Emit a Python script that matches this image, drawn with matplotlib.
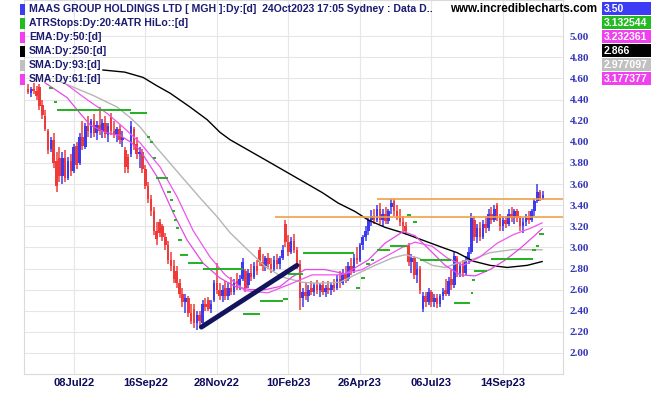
import matplotlib
matplotlib.use("Agg")
import matplotlib.pyplot as plt
from matplotlib.patches import Rectangle
import numpy as np

plt.rcParams['font.family'] = ['Liberation Sans', 'DejaVu Sans']

# one bar = two trading sessions, bar 0 ~ late May 2022, bar 180 = 24Oct2023
opens = [4.50, 4.46, 4.50, 4.48, 4.52, 4.35, 4.24, 4.10, 3.93, 4.02,
         3.82, 3.85, 3.68, 3.85, 3.66, 3.82, 3.72, 3.96, 3.80, 4.05,
         3.95, 4.15, 4.08, 4.20, 4.08, 4.16, 4.10, 4.18, 4.06, 4.24,
         4.10, 4.06, 4.12, 4.02, 3.92, 3.86, 3.88, 4.12, 3.98, 3.88,
         3.90, 3.74, 3.58, 3.46, 3.34, 3.16, 3.24, 3.20, 3.10, 3.02,
         2.88, 2.82, 2.78, 2.66, 2.56, 2.48, 2.52, 2.38, 2.42, 2.28,
         2.36, 2.28, 2.46, 2.50, 2.42, 2.50, 2.66, 2.60, 2.54, 2.62,
         2.54, 2.62, 2.58, 2.68, 2.64, 2.70, 2.78, 2.64, 2.76, 2.72,
         2.82, 2.98, 2.86, 2.82, 2.90, 2.84, 2.80, 2.88, 2.84, 2.90,
         3.22, 3.05, 2.96, 3.06, 2.98, 2.84, 2.52, 2.58, 2.54, 2.62,
         2.58, 2.64, 2.60, 2.64, 2.58, 2.62, 2.60, 2.64, 2.62, 2.70,
         2.66, 2.76, 2.70, 2.82, 2.78, 2.90, 2.88, 3.02, 3.10, 3.16,
         3.26, 3.30, 3.26, 3.36, 3.26, 3.32, 3.25, 3.38, 3.44, 3.34,
         3.30, 3.24, 3.20, 3.02, 2.86, 2.90, 2.74, 2.80, 2.42, 2.54,
         2.48, 2.58, 2.48, 2.52, 2.46, 2.54, 2.60, 2.56, 2.70, 2.64,
         2.90, 2.76, 2.84, 2.76, 2.88, 2.96, 3.26, 3.10, 3.18, 3.10,
         3.22, 3.18, 3.32, 3.26, 3.40, 3.28, 3.20, 3.26, 3.22, 3.32,
         3.28, 3.34, 3.28, 3.20, 3.24, 3.28, 3.26, 3.34, 3.44, 3.52,
         3.46]
highs = [4.55, 4.52, 4.56, 4.53, 4.55, 4.40, 4.30, 4.12, 4.05, 4.08,
         3.90, 3.95, 3.90, 3.92, 3.86, 3.88, 3.98, 4.00, 4.08, 4.20,
         4.18, 4.24, 4.22, 4.26, 4.20, 4.33, 4.22, 4.24, 4.18, 4.27,
         4.20, 4.14, 4.16, 4.10, 3.95, 3.88, 4.20, 4.14, 4.05, 3.95,
         3.93, 3.78, 3.62, 3.50, 3.38, 3.24, 3.27, 3.22, 3.14, 3.06,
         2.96, 2.88, 2.82, 2.70, 2.62, 2.56, 2.54, 2.46, 2.46, 2.40,
         2.40, 2.50, 2.52, 2.53, 2.50, 2.69, 2.85, 2.66, 2.64, 2.68,
         2.66, 2.72, 2.70, 2.76, 2.74, 2.90, 2.80, 2.80, 2.84, 2.86,
         2.88, 3.00, 2.94, 2.92, 2.95, 2.90, 2.92, 2.94, 2.92, 3.02,
         3.26, 3.12, 3.10, 3.13, 3.00, 2.88, 2.62, 2.66, 2.64, 2.68,
         2.66, 2.69, 2.66, 2.68, 2.64, 2.68, 2.66, 2.70, 2.74, 2.78,
         2.80, 2.82, 2.86, 2.90, 2.94, 3.00, 3.04, 3.12, 3.20, 3.28,
         3.35, 3.36, 3.40, 3.42, 3.36, 3.38, 3.36, 3.46, 3.46, 3.40,
         3.36, 3.30, 3.24, 3.04, 2.94, 2.92, 2.86, 2.82, 2.58, 2.58,
         2.62, 2.60, 2.56, 2.56, 2.56, 2.62, 2.70, 2.72, 2.79, 2.96,
         2.92, 2.86, 2.88, 2.92, 3.00, 3.33, 3.30, 3.22, 3.24, 3.26,
         3.30, 3.36, 3.38, 3.40, 3.42, 3.32, 3.30, 3.30, 3.36, 3.38,
         3.36, 3.36, 3.30, 3.28, 3.32, 3.34, 3.36, 3.46, 3.60, 3.54,
         3.53]
lows = [4.45, 4.42, 4.45, 4.40, 4.30, 4.22, 4.10, 3.88, 3.90, 3.75,
        3.52, 3.62, 3.60, 3.62, 3.64, 3.68, 3.70, 3.74, 3.78, 3.92,
        3.93, 4.05, 4.04, 4.05, 4.02, 4.06, 4.04, 4.04, 4.00, 4.06,
        4.04, 4.00, 3.98, 3.95, 3.70, 3.70, 3.86, 3.92, 3.84, 3.75,
        3.70, 3.55, 3.42, 3.30, 3.12, 3.02, 3.10, 3.06, 2.98, 2.84,
        2.78, 2.66, 2.62, 2.52, 2.44, 2.38, 2.34, 2.27, 2.24, 2.22,
        2.26, 2.26, 2.40, 2.40, 2.38, 2.48, 2.56, 2.50, 2.48, 2.50,
        2.50, 2.55, 2.55, 2.60, 2.60, 2.68, 2.58, 2.62, 2.68, 2.70,
        2.74, 2.82, 2.78, 2.78, 2.80, 2.76, 2.78, 2.80, 2.80, 2.88,
        3.00, 2.92, 2.94, 2.95, 2.80, 2.41, 2.44, 2.50, 2.48, 2.55,
        2.54, 2.56, 2.53, 2.55, 2.53, 2.56, 2.55, 2.58, 2.60, 2.62,
        2.64, 2.66, 2.68, 2.74, 2.76, 2.84, 2.86, 2.98, 3.06, 3.12,
        3.20, 3.22, 3.24, 3.22, 3.20, 3.22, 3.22, 3.32, 3.30, 3.26,
        3.20, 3.16, 3.12, 2.82, 2.76, 2.70, 2.66, 2.56, 2.39, 2.44,
        2.45, 2.44, 2.44, 2.43, 2.44, 2.50, 2.54, 2.54, 2.60, 2.62,
        2.72, 2.72, 2.72, 2.74, 2.84, 2.94, 3.06, 3.04, 3.06, 3.08,
        3.14, 3.16, 3.22, 3.24, 3.25, 3.16, 3.16, 3.18, 3.20, 3.24,
        3.22, 3.24, 3.16, 3.14, 3.20, 3.22, 3.24, 3.30, 3.42, 3.44,
        3.45]
closes = [4.47, 4.50, 4.48, 4.43, 4.34, 4.25, 4.12, 3.92, 4.02, 3.80,
          3.58, 3.68, 3.85, 3.66, 3.82, 3.72, 3.95, 3.78, 4.05, 3.96,
          4.15, 4.10, 4.20, 4.08, 4.16, 4.10, 4.18, 4.07, 4.15, 4.10,
          4.06, 4.12, 4.02, 4.05, 3.76, 3.74, 4.15, 3.96, 3.88, 3.90,
          3.74, 3.58, 3.46, 3.34, 3.16, 3.08, 3.14, 3.10, 3.02, 2.88,
          2.82, 2.70, 2.66, 2.56, 2.48, 2.52, 2.38, 2.30, 2.28, 2.36,
          2.30, 2.46, 2.44, 2.42, 2.46, 2.66, 2.60, 2.54, 2.60, 2.54,
          2.62, 2.58, 2.66, 2.64, 2.70, 2.86, 2.62, 2.76, 2.72, 2.82,
          2.78, 2.86, 2.82, 2.90, 2.84, 2.80, 2.88, 2.84, 2.90, 2.98,
          3.05, 2.96, 3.06, 2.98, 2.84, 2.52, 2.58, 2.54, 2.60, 2.58,
          2.64, 2.60, 2.64, 2.58, 2.62, 2.60, 2.64, 2.62, 2.70, 2.66,
          2.76, 2.70, 2.82, 2.78, 2.90, 2.88, 3.02, 3.10, 3.16, 3.26,
          3.30, 3.26, 3.36, 3.26, 3.32, 3.25, 3.34, 3.42, 3.34, 3.30,
          3.24, 3.20, 3.16, 2.86, 2.90, 2.74, 2.80, 2.60, 2.54, 2.48,
          2.58, 2.48, 2.52, 2.46, 2.54, 2.58, 2.56, 2.68, 2.64, 2.92,
          2.76, 2.82, 2.76, 2.88, 2.96, 3.28, 3.10, 3.18, 3.10, 3.22,
          3.18, 3.32, 3.26, 3.36, 3.28, 3.20, 3.26, 3.22, 3.32, 3.28,
          3.34, 3.28, 3.20, 3.24, 3.28, 3.26, 3.34, 3.44, 3.52, 3.47,
          3.50]

# moving averages (bar index, price)
sma250_x = [26.2, 33.8, 40.2, 45.1, 49.7, 56.6, 62.6, 67.1, 70.6, 82.9, 95.1, 102.8,
            108.4, 114.3, 118.9, 124.8, 130.8, 137.8, 145.8, 150.0, 155.6, 161.5,
            167.5, 174.5, 179.7]
sma250_y = [4.68, 4.66, 4.61, 4.53, 4.46, 4.33, 4.21, 4.09, 4.02, 3.83, 3.64, 3.52,
            3.42, 3.34, 3.26, 3.19, 3.14, 3.07, 2.99, 2.95, 2.87, 2.83,
            2.81, 2.83, 2.866]
sma93_x = [11.2, 22.7, 31.1, 35.7, 39.2, 45.1, 52.1, 60.1, 66.1, 70.6, 75.9, 82.9,
           88.8, 95.8, 101.4, 109.1, 114.3, 121.3, 127.3, 131.8, 136.4, 141.3,
           145.8, 151.0, 155.6, 161.5, 169.6, 179.7]
sma93_y = [4.57, 4.44, 4.33, 4.23, 4.14, 3.94, 3.72, 3.47, 3.29, 3.14, 3.00, 2.82,
           2.72, 2.67, 2.66, 2.67, 2.74, 2.83, 2.90, 2.93, 2.90, 2.83,
           2.81, 2.86, 2.89, 2.95, 2.98, 2.977]
sma61_x = [5.9, 13.6, 18.2, 21.7, 26.9, 32.2, 35.7, 39.2, 45.1, 50.7, 55.6, 61.2,
           67.1, 72.4, 77.6, 82.9, 88.1, 92.3, 96.9, 103.8, 110.8, 118.9, 124.8,
           131.1, 135.3, 139.9, 145.8, 151.0, 156.3, 161.5, 166.8, 172.0, 176.6, 179.7]
sma61_y = [4.56, 4.42, 4.27, 4.16, 4.09, 4.06, 4.00, 3.92, 3.67, 3.33, 3.07, 2.85,
           2.71, 2.63, 2.60, 2.60, 2.63, 2.72, 2.79, 2.79, 2.75, 2.88, 3.04,
           3.15, 3.11, 2.99, 2.83, 2.74, 2.73, 2.79, 2.88, 2.99, 3.10, 3.177]
ema50_x = [13.6, 20.6, 27.6, 33.2, 39.2, 46.2, 52.1, 57.7, 63.6, 68.9, 75.9, 83.9,
           92.3, 99.3, 109.1, 116.8, 124.8, 130.8, 135.3, 141.3, 146.5, 152.1,
           158.0, 164.0, 169.6, 175.5, 179.7]
ema50_y = [4.54, 4.40, 4.27, 4.14, 3.99, 3.76, 3.48, 3.16, 2.91, 2.74, 2.59, 2.57,
           2.66, 2.74, 2.74, 2.79, 2.91, 3.00, 3.05, 3.01, 2.90, 2.83,
           2.91, 3.04, 3.12, 3.18, 3.232]

# ATR stop steps: start bar, end bar, level
atr_start = [7.2, 9.0, 10, 35.5, 41.6, 42.7, 43.7, 44.8, 48.7, 49.6, 50.4, 51.1, 51.8, 52.6,
             53.2, 56, 61, 75, 81, 89, 91, 96, 114.7, 116.5, 118.3, 119.9, 122, 126.5,
             132.5, 134.5, 137, 149, 154.8, 155.3, 156, 162, 176.2, 177.5, 178.5]
atr_end = [8.6, 10.0, 36, 41.5, 42.8, 43.8, 44.8, 49, 49.9, 50.7, 51.5, 52.2, 52.9, 53.7,
           56, 61, 75, 81, 89, 91, 96, 114, 115.9, 117.7, 119.5, 121.1, 126.5, 132.5,
           134, 136, 148, 154.5, 155.7, 156.2, 160.5, 176.5, 177.4, 178.6, 180.5]
atr_val = [4.51, 4.38, 4.30, 4.27, 4.05, 4.00, 3.85, 3.66, 3.52, 3.45, 3.34, 3.26, 3.18, 3.07,
           2.93, 2.85, 2.80, 2.37, 2.49, 2.51, 2.75, 2.95, 2.62, 2.71, 2.84, 2.88, 2.98, 3.01,
           3.31, 3.24, 2.88, 2.47, 2.57, 2.69, 2.78, 2.89, 2.98, 3.01, 3.13]

# horizontal resistance lines and the drawn trend line
res_start = [86.4, 122]
res_val = [3.29, 3.46]
trend_x = [60.6, 94.0]
trend_y = [2.245, 2.83]

tick_bar = [16, 41, 66, 91, 116, 141, 166]
tick_labels = ['08Jul22', '16Sep22', '28Nov22', '10Feb23', '26Apr23', '06Jul23', '14Sep23']

legend_rows = ["MAAS GROUP HOLDINGS LTD [ MGH ]:Dy:[d]  24Oct2023 17:05 Sydney : Data D..",
               "ATRStops:Dy:20:4ATR HiLo::[d]", "EMA:Dy:50:[d]", "SMA:Dy:250:[d]",
               "SMA:Dy:93:[d]", "SMA:Dy:61:[d]"]
last_vals = ['3.50', '3.132544', '3.232361', '2.866', '2.977097', '3.177377']
row_colors = ['#3c3cf5', '#22bb22', '#f040f0', '#000000', '#c0c0c0', '#f040f0']

W, H = 651, 395
fig = plt.figure(figsize=(W / 100, H / 100), dpi=100)
ax = fig.add_axes([24 / W, 21 / H, 539 / W, 374 / H])

o = np.array(opens); hi = np.array(highs); lo = np.array(lows); c = np.array(closes)
x = np.arange(len(c))
col = np.where(c >= o, '#3a3af0', '#f03a3a')
ax.vlines(x, lo, hi, colors=col, lw=1.1, zorder=3)
body = np.where(np.abs(c - o) < 0.01, 0.01, c - o)
ax.bar(x, body, bottom=o, width=0.9, color=col, lw=0, zorder=3)

ax.plot(sma93_x, sma93_y, color='#b5b5b5', lw=1.0, zorder=4)
ax.plot(sma250_x, sma250_y, color='black', lw=1.0, zorder=4)
ax.plot(sma61_x, sma61_y, color='#e448e4', lw=0.9, zorder=4)
ax.plot(ema50_x, ema50_y, color='#ee55ee', lw=0.9, zorder=4)
ax.hlines(atr_val, atr_start, atr_end, color='#22b022', lw=1.4, zorder=4)

xmin, xmax = -1.4, 187.0
ax.hlines(res_val, res_start, xmax, color='#f0a048', lw=1.2, zorder=4)
ax.plot(trend_x, trend_y, color='#14145e', lw=3.5, solid_capstyle='round', zorder=5)

ax.set_xlim(xmin, xmax)
ax.set_ylim(1.801, 5.343)
ax.yaxis.tick_right()
yt = np.arange(2.0, 5.01, 0.2)
ax.set_yticks(yt)
ax.set_yticklabels([f"{v:.2f}" for v in yt], family='Liberation Serif',
                   fontweight='bold', fontsize=8, color='#3535b8')
ax.set_xticks(tick_bar)
ax.set_xticklabels(tick_labels, fontweight='bold', fontsize=8, color='#0c0c5c')
ax.tick_params(axis='y', length=0, pad=5)
ax.tick_params(axis='x', length=0, pad=3)
ax.grid(color='#e6e6e6', lw=0.8)
ax.set_axisbelow(True)
for s in ax.spines.values():
    s.set_color('#dadada')
    s.set_linewidth(0.8)


def fx(px):
    return px / W


def fy(py):
    return 1 - py / H


for i, (txt, cc) in enumerate(zip(legend_rows, row_colors)):
    yc = 9.5 + 14 * i
    fig.patches.append(Rectangle((fx(19.5), fy(yc + 5.5)), 5.5 / W, 11 / H,
                                 transform=fig.transFigure, color=cc, lw=0))
    fig.text(fx(29), fy(yc), txt, fontsize=7.6, fontweight='bold',
             color='#1c1c72', va='center', ha='left')
    # last value boxes at the right
    fig.patches.append(Rectangle((fx(602), fy(2 + 14 * i + 13)), 49 / W, 13 / H,
                                 transform=fig.transFigure, color=cc, lw=0))
    fig.text(fx(604), fy(2 + 14 * i + 6.8), last_vals[i], fontsize=7.6,
             fontweight='bold', color='white', va='center', ha='left')

fig.text(fx(450), fy(9.5), "www.incrediblecharts.com", fontsize=8.4,
         fontweight='bold', color='black', va='center', ha='left')

fig.savefig("out.png", dpi=100)
